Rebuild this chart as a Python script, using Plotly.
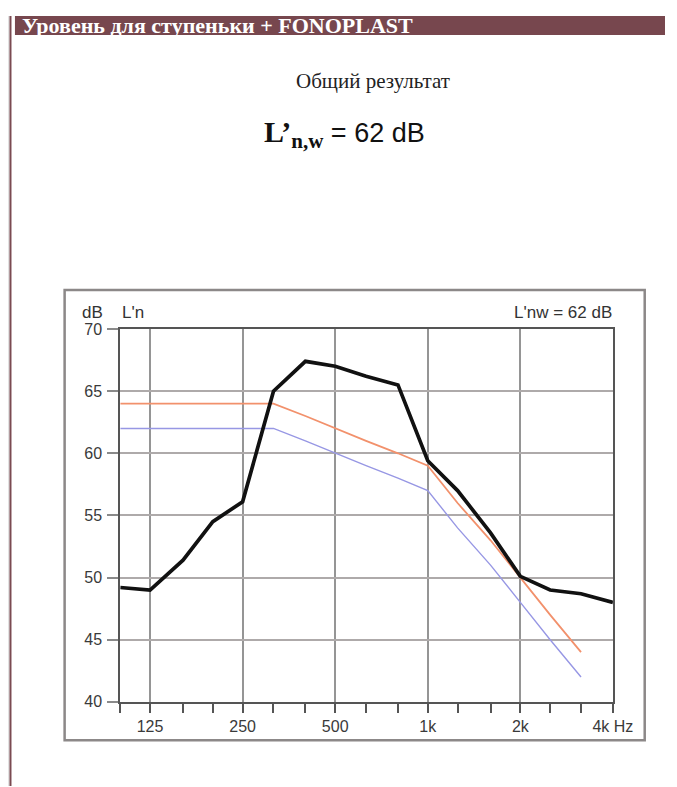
import plotly.graph_objects as go

# ---- data ----
freqs = [100, 125, 160, 200, 250, 315, 400, 500, 630, 800, 1000, 1250, 1600, 2000, 2500, 3150, 4000]
measured = [49.2, 49.0, 51.4, 54.5, 56.1, 65.0, 67.4, 67.0, 66.2, 65.5, 59.4, 57.0, 53.6, 50.1, 49.0, 48.7, 48.0]
ref_freqs = [100, 125, 160, 200, 250, 315, 400, 500, 630, 800, 1000, 1250, 1600, 2000, 2500, 3150]
ref_shifted = [64, 64, 64, 64, 64, 64, 63, 62, 61, 60, 59, 56, 53, 50, 47, 44]
ref_curve = [62, 62, 62, 62, 62, 62, 61, 60, 59, 58, 57, 54, 51, 48, 45, 42]
x_tickvals = [125, 250, 500, 1000, 2000, 4000]
x_ticktext = ["125", "250", "500", "1k", "2k", "4k Hz"]
y_tickvals = [40, 45, 50, 55, 60, 65, 70]

W, H = 677, 787
# observed page placement: screen_x = 5 + 0.977*fig_x, screen_y = 15.5 + 0.98*fig_y
def fx(X):
    return (X - 5) / 0.977
def fy(Y):
    return (Y - 15.5) / 0.98
def px(X):
    return min(1.0, max(0.0, fx(X) / W))
def py(Y):
    return min(1.0, max(0.0, 1 - fy(Y) / H))

fig = go.Figure()
fig.add_trace(go.Scatter(x=ref_freqs, y=ref_curve, mode="lines",
                         line=dict(color="#9797e4", width=1.4), hoverinfo="skip"))
fig.add_trace(go.Scatter(x=ref_freqs, y=ref_shifted, mode="lines",
                         line=dict(color="#f2916c", width=1.8), hoverinfo="skip"))
fig.add_trace(go.Scatter(x=freqs, y=measured, mode="lines",
                         line=dict(color="#111111", width=3.7), hoverinfo="skip"))

tick_font = dict(family="Liberation Sans, Arial, sans-serif", size=16, color="#3a3a3a")

fig.update_layout(
    width=W, height=H, autosize=False,
    margin=dict(l=0, r=0, t=0, b=0),
    paper_bgcolor="white",
    plot_bgcolor="white",
    showlegend=False,
    xaxis=dict(
        type="log",
        domain=[px(118), px(614)],
        range=[2, 3.60206],
        tickmode="array", tickvals=x_tickvals, ticktext=x_ticktext,
        ticks="outside", ticklen=9, tickwidth=1.5, tickcolor="#555",
        showgrid=True, gridcolor="#959595", gridwidth=1.5,
        showline=True, linecolor="#555", linewidth=2, mirror=True,
        tickfont=tick_font,
        zeroline=False,
        minor=dict(tickmode="array", tickvals=freqs, ticks="outside", ticklen=9,
                   tickwidth=1.5, tickcolor="#555", showgrid=False),
    ),
    yaxis=dict(
        domain=[py(702.5), py(329)],
        range=[40, 70],
        tickmode="array", tickvals=y_tickvals,
        ticks="outside", ticklen=11, tickwidth=2, tickcolor="#8a8a8a",
        showgrid=True, gridcolor="#aeaaaa", gridwidth=2,
        showline=True, linecolor="#555", linewidth=2, mirror=True,
        tickfont=tick_font, ticklabelstandoff=2,
        zeroline=False,
    ),
)

shapes = [
    # grey page margin at the left
    dict(type="rect", xref="paper", yref="paper", x0=0, x1=px(6.5), y0=0, y1=1,
         fillcolor="#e2e2e2", line=dict(width=0)),
    # maroon left border of the panel
    dict(type="line", xref="paper", yref="paper", x0=px(7.5), x1=px(7.5), y0=0, y1=1,
         line=dict(color="#7a4a51", width=2)),
    # header bar
    dict(type="rect", xref="paper", yref="paper", x0=px(12), x1=1, y0=py(34.5), y1=1,
         fillcolor="#77474e", line=dict(width=0)),
    # chart frame
    dict(type="rect", xref="paper", yref="paper", x0=px(62), x1=px(646), y0=py(741), y1=py(290),
         fillcolor="rgba(0,0,0,0)", line=dict(color="#8c8888", width=2.5)),
]
fig.update_layout(shapes=shapes)

small = dict(family="Liberation Sans, Arial, sans-serif", size=17, color="#333")
annotations = [
    dict(text="<b>Уровень для ступеньки + FONOPLAST</b>", xref="paper", yref="paper",
         x=px(17), y=py(25.5), xanchor="left", yanchor="middle", showarrow=False,
         font=dict(family="Liberation Serif, Times New Roman, serif", size=22, color="white")),
    dict(text="Общий результат", xref="paper", yref="paper",
         x=px(372), y=py(81), xanchor="center", yanchor="middle", showarrow=False,
         font=dict(family="Liberation Serif, Times New Roman, serif", size=21, color="#222")),
    dict(text="<span style=\"font-family:Liberation Serif, serif;font-size:30px\"><b>L’<sub>n,w</sub></b></span> = 62 dB",
         xref="paper", yref="paper",
         x=px(344), y=py(134), xanchor="center", yanchor="middle", showarrow=False,
         font=dict(family="Liberation Sans, Arial, sans-serif", size=27, color="#111")),
    dict(text="dB", xref="paper", yref="paper", x=px(103), y=py(312),
         xanchor="right", yanchor="middle", showarrow=False, font=small),
    dict(text="L'n", xref="paper", yref="paper", x=px(118), y=py(312),
         xanchor="left", yanchor="middle", showarrow=False, font=small),
    dict(text="L'nw = 62 dB", xref="paper", yref="paper", x=px(615), y=py(312),
         xanchor="right", yanchor="middle", showarrow=False, font=small),
]
fig.update_layout(annotations=annotations)

fig.write_html("out.html")
